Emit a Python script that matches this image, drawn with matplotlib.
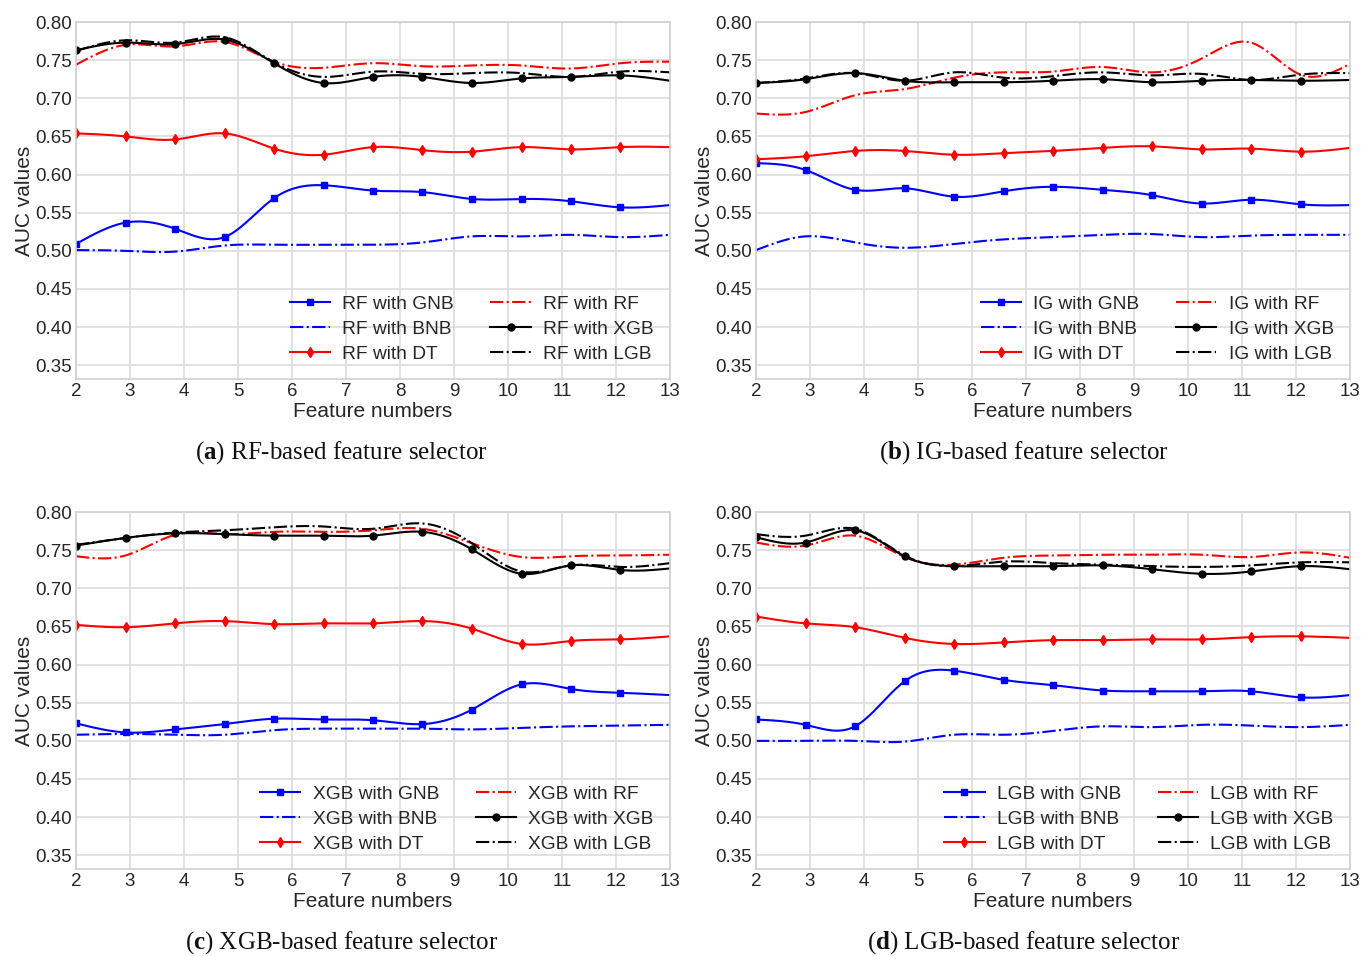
import matplotlib
matplotlib.use("Agg")
import matplotlib.pyplot as plt
import numpy as np

# --- DATA (AUC values) ---
feature_pos = np.linspace(2, 13, 13)
classifiers = ['GNB', 'BNB', 'DT', 'RF', 'XGB', 'LGB']
selectors = ['RF', 'IG', 'XGB', 'LGB']
captions = ['RF-based feature selector', 'IG-based feature selector',
            'XGB-based feature selector', 'LGB-based feature selector']
panel_tags = ['a', 'b', 'c', 'd']

rf_gnb = [0.509, 0.537, 0.529, 0.518, 0.569, 0.586, 0.579, 0.577, 0.568, 0.568, 0.565, 0.557, 0.560]
rf_bnb = [0.501, 0.500, 0.499, 0.507, 0.508, 0.508, 0.508, 0.511, 0.519, 0.519, 0.521, 0.518, 0.521]
rf_dt = [0.654, 0.650, 0.646, 0.654, 0.634, 0.626, 0.636, 0.632, 0.630, 0.636, 0.633, 0.636, 0.636]
rf_rf = [0.744, 0.770, 0.768, 0.774, 0.748, 0.740, 0.746, 0.742, 0.743, 0.743, 0.739, 0.746, 0.748]
rf_xgb = [0.763, 0.773, 0.771, 0.777, 0.746, 0.720, 0.728, 0.728, 0.720, 0.726, 0.728, 0.730, 0.723]
rf_lgb = [0.762, 0.776, 0.773, 0.780, 0.747, 0.728, 0.735, 0.732, 0.733, 0.733, 0.728, 0.735, 0.734]

ig_gnb = [0.615, 0.606, 0.580, 0.582, 0.571, 0.578, 0.584, 0.580, 0.573, 0.562, 0.567, 0.561, 0.560]
ig_bnb = [0.501, 0.519, 0.511, 0.504, 0.509, 0.515, 0.518, 0.521, 0.522, 0.518, 0.520, 0.521, 0.521]
ig_dt = [0.620, 0.624, 0.631, 0.631, 0.626, 0.628, 0.631, 0.635, 0.637, 0.633, 0.634, 0.630, 0.635]
ig_rf = [0.680, 0.682, 0.704, 0.712, 0.727, 0.734, 0.735, 0.741, 0.734, 0.752, 0.773, 0.731, 0.745]
ig_xgb = [0.720, 0.725, 0.733, 0.723, 0.721, 0.721, 0.723, 0.725, 0.721, 0.723, 0.724, 0.723, 0.724]
ig_lgb = [0.720, 0.726, 0.733, 0.723, 0.734, 0.727, 0.729, 0.734, 0.730, 0.732, 0.724, 0.731, 0.733]

xgb_gnb = [0.523, 0.511, 0.515, 0.522, 0.529, 0.528, 0.527, 0.522, 0.541, 0.574, 0.568, 0.563, 0.560]
xgb_bnb = [0.508, 0.509, 0.508, 0.508, 0.514, 0.516, 0.516, 0.516, 0.515, 0.517, 0.519, 0.520, 0.521]
xgb_dt = [0.652, 0.649, 0.654, 0.657, 0.653, 0.654, 0.654, 0.657, 0.647, 0.627, 0.631, 0.633, 0.637]
xgb_rf = [0.742, 0.743, 0.770, 0.771, 0.774, 0.774, 0.776, 0.778, 0.759, 0.741, 0.742, 0.743, 0.744]
xgb_xgb = [0.756, 0.766, 0.772, 0.771, 0.769, 0.769, 0.769, 0.774, 0.751, 0.719, 0.730, 0.724, 0.726]
xgb_lgb = [0.757, 0.766, 0.773, 0.776, 0.780, 0.781, 0.778, 0.785, 0.759, 0.722, 0.730, 0.728, 0.733]

lgb_gnb = [0.528, 0.521, 0.519, 0.578, 0.592, 0.580, 0.573, 0.566, 0.565, 0.565, 0.565, 0.557, 0.560]
lgb_bnb = [0.500, 0.500, 0.500, 0.499, 0.508, 0.508, 0.513, 0.519, 0.518, 0.521, 0.520, 0.518, 0.521]
lgb_dt = [0.663, 0.654, 0.649, 0.635, 0.627, 0.629, 0.632, 0.632, 0.633, 0.633, 0.636, 0.637, 0.635]
lgb_rf = [0.760, 0.756, 0.769, 0.741, 0.731, 0.740, 0.743, 0.744, 0.744, 0.744, 0.741, 0.747, 0.740]
lgb_xgb = [0.767, 0.760, 0.776, 0.742, 0.729, 0.729, 0.729, 0.730, 0.725, 0.719, 0.722, 0.729, 0.725]
lgb_lgb = [0.771, 0.769, 0.778, 0.743, 0.729, 0.735, 0.733, 0.731, 0.729, 0.728, 0.730, 0.734, 0.734]

panel_data = [
    [rf_gnb, rf_bnb, rf_dt, rf_rf, rf_xgb, rf_lgb],
    [ig_gnb, ig_bnb, ig_dt, ig_rf, ig_xgb, ig_lgb],
    [xgb_gnb, xgb_bnb, xgb_dt, xgb_rf, xgb_xgb, xgb_lgb],
    [lgb_gnb, lgb_bnb, lgb_dt, lgb_rf, lgb_xgb, lgb_lgb],
]

# style per classifier: colour, linestyle, marker, marker size
styles = [
    ('#0000ff', '-', 's', 5),
    ('#0000ff', '-.', 'None', 0),
    ('#ff0000', '-', 'd', 5.5),
    ('#ff0000', '-.', 'None', 0),
    ('#000000', '-', 'o', 5),
    ('#000000', '-.', 'None', 0),
]
# ------------------


def spline(x, y, n=400):
    # natural cubic spline, only to draw a smooth curve through the points
    x = np.asarray(x, float)
    y = np.asarray(y, float)
    k = len(x)
    h = np.diff(x)
    A = np.zeros((k, k))
    b = np.zeros(k)
    A[0, 0] = A[-1, -1] = 1
    for i in range(1, k - 1):
        A[i, i - 1] = h[i - 1]
        A[i, i] = 2 * (h[i - 1] + h[i])
        A[i, i + 1] = h[i]
        b[i] = 6 * ((y[i + 1] - y[i]) / h[i] - (y[i] - y[i - 1]) / h[i - 1])
    M = np.linalg.solve(A, b)
    xs = np.linspace(x[0], x[-1], n)
    idx = np.clip(np.searchsorted(x, xs) - 1, 0, k - 2)
    x0, x1 = x[idx], x[idx + 1]
    hh = x1 - x0
    t0, t1 = x1 - xs, xs - x0
    ys = (M[idx] * t0 ** 3 + M[idx + 1] * t1 ** 3) / (6 * hh) \
        + (y[idx] / hh - M[idx] * hh / 6) * t0 + (y[idx + 1] / hh - M[idx + 1] * hh / 6) * t1
    return xs, ys


plt.rcParams['font.family'] = ['Liberation Sans', 'DejaVu Sans']
plt.rcParams['mathtext.fontset'] = 'custom'
plt.rcParams['mathtext.bf'] = 'Liberation Serif:bold'
text_col = '#262626'

fig = plt.figure(figsize=(13.65, 9.56), dpi=100)
W, H = 1365, 956
boxes = [(76, 22), (756, 22), (76, 512), (756, 512)]
aw, ah = 594, 357

for p in range(4):
    left, top = boxes[p]
    ax = fig.add_axes([left / W, 1 - (top + ah) / H, aw / W, ah / H])
    handles = []
    for series, (col, ls, mk, ms) in zip(panel_data[p], styles):
        xs, ys = spline(feature_pos, series)
        ax.plot(xs, ys, color=col, ls=ls, lw=1.5)
        if mk != 'None':
            ax.plot(feature_pos[:12], series[:12], ls='none', marker=mk, ms=ms, color=col)
        h, = ax.plot([], [], color=col, ls=ls, lw=1.5, marker=mk, ms=ms)
        handles.append(h)
    ax.legend(handles, [f"{selectors[p]} with {c}" for c in classifiers], ncol=2, frameon=False,
              loc='lower right', fontsize=13.8, handlelength=2.1, handletextpad=0.65,
              columnspacing=1.9, labelspacing=0.4, borderaxespad=0.45, labelcolor=text_col)

    ax.set_xlim(2, 13)
    ax.set_ylim(0.332, 0.80)
    ax.set_xticks(range(2, 14))
    yt = np.arange(0.35, 0.801, 0.05)
    ax.set_yticks(yt)
    ax.set_yticklabels([f"{v:.2f}" for v in yt])
    ax.grid(True, color='#dcdcdc', lw=1.2)
    ax.set_axisbelow(True)
    for s in ax.spines.values():
        s.set_color('#cfcfcf')
        s.set_linewidth(1.2)
    ax.tick_params(length=0, labelsize=13.5, colors=text_col, pad=3)
    ax.set_xlabel('Feature numbers', fontsize=15, color=text_col, labelpad=1)
    ax.set_ylabel('AUC values', fontsize=15, color=text_col, labelpad=1)

    cx = 0.25 if p % 2 == 0 else 0.75
    cy = 1 - (453 if p < 2 else 943) / H
    fig.text(cx, cy, f"($\\mathbf{{{panel_tags[p]}}}$) {captions[p]}", ha='center', va='center',
             fontsize=18, family=['Liberation Serif', 'DejaVu Serif'], color='#111111')

fig.savefig('out.png', dpi=100)
